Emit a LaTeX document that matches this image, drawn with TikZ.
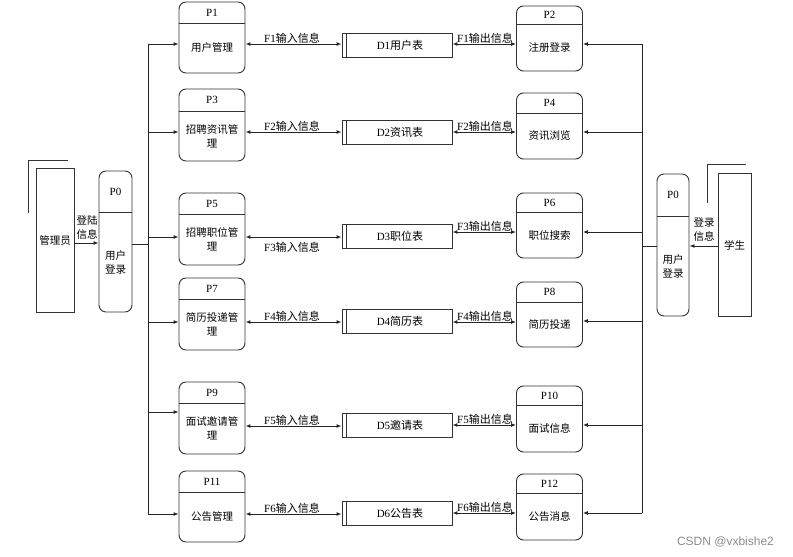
\documentclass[tikz,border=0pt]{standalone}
\usepackage{fontspec}
\setmainfont{Liberation Serif}
\newfontfamily\zhfont{Noto Sans CJK SC}
\newfontfamily\wmfont{Liberation Sans}
\newcommand\zh[1]{{\zhfont #1}}
\usetikzlibrary{arrows.meta}
\tikzset{
  pbox/.style={draw=black!80, line width=0.9pt, rounded corners=7pt, inner sep=0pt},
  hline/.style={draw=black!80, line width=0.9pt},
  sbox/.style={draw=black!80, line width=0.9pt, inner sep=0pt},
  conn/.style={draw=black!85, line width=0.9pt},
  arr/.style={conn, -{Latex[length=5pt,width=4pt]}},
  bi/.style={conn, line width=1pt, {Latex[length=5pt,width=4pt]}-{Latex[length=5pt,width=4pt]}},
  idtxt/.style={inner sep=0pt, font=\fontsize{11}{13}\selectfont},
  bodytxt/.style={inner sep=0pt, align=center, font=\zhfont\fontsize{10.5}{14}\selectfont},
  lab/.style={inner sep=0pt, font=\fontsize{11}{13}\selectfont},
}
% name, cx, top, bottom, header y, width, id, text
\newcommand\PBox[8]{%
  \pgfmathsetmacro\pbh{#4-#3}%
  \pgfmathsetmacro\pbcy{(#3+#4)/2}%
  \node[pbox, minimum width=#6pt, minimum height=\pbh pt] (#1) at (#2,\pbcy) {};
  \coordinate (#1hy) at (#2,#5);
  \draw[hline] (#1hy -| #1.west) -- (#1hy -| #1.east);
  \node[idtxt] (#1id) at (#2,{(#3+#5)/2}) {#7};
  \node[bodytxt] (#1tx) at (#2,{(#5+#4)/2}) {#8};
}
% name, cy, text
\newcommand\DBox[3]{%
  \node[sbox, minimum width=110pt, minimum height=24pt] (#1) at (397,#2) {};
  \draw[hline] ([xshift=5pt]#1.north west) -- ([xshift=5pt]#1.south west);
  \node[lab] (#1tx) at ([xshift=3pt]#1.center) {#3};
}
\begin{document}
\begin{tikzpicture}[x=1pt,y=-1pt]
\useasboundingbox (0,0) rectangle (793,557);
\fill[white] (0,0) rectangle (793,557);

% left processes
\PBox{p1}{212}{2}{73}{23}{66}{P1}{用户管理}
\PBox{p3}{212}{89}{161}{111}{66}{P3}{招聘资讯管\\理}
\PBox{p5}{212}{193}{265}{214}{66}{P5}{招聘职位管\\理}
\PBox{p7}{212}{278}{350}{299}{66}{P7}{简历投递管\\理}
\PBox{p9}{212}{382}{454}{403}{66}{P9}{面试邀请管\\理}
\PBox{p11}{212}{471}{542}{492}{66}{P11}{公告管理}
% right processes
\PBox{p2}{549.5}{6}{71}{24}{66}{P2}{注册登录}
\PBox{p4}{549.5}{93}{159}{113}{66}{P4}{资讯浏览}
\PBox{p6}{549.5}{193}{258}{212}{66}{P6}{职位搜索}
\PBox{p8}{549.5}{282}{347}{302}{66}{P8}{简历投递}
\PBox{p10}{549.5}{386}{452}{405}{66}{P10}{面试信息}
\PBox{p12}{549.5}{474}{540}{493}{66}{P12}{公告消息}
% login processes
\PBox{p0l}{115.5}{171}{312}{212}{33}{P0}{用户\\登录}
\PBox{p0r}{673}{174}{316}{216}{32}{P0}{用户\\登录}

% data stores
\DBox{d1}{45}{D1\zh{用户表}}
\DBox{d2}{132.5}{D2\zh{资讯表}}
\DBox{d3}{236}{D3\zh{职位表}}
\DBox{d4}{321}{D4\zh{简历表}}
\DBox{d5}{425}{D5\zh{邀请表}}
\DBox{d6}{513}{D6\zh{公告表}}

% external entities
\node[sbox, minimum width=38pt, minimum height=144pt] (admin) at (55,240) {};
\node[bodytxt] (admintx) at (55,241) {管理员};
\draw[hline] (admin.north west) ++(-7,45) -- ++(0,-52) -- ++(39,0);
\node[sbox, minimum width=33pt, minimum height=143pt] (stu) at (734.5,244.5) {};
\node[bodytxt] (stutx) at (734.5,245) {学生};
\draw[hline] (stu.north west) ++(-10,30) -- ++(0,-38) -- ++(38,0);

% entity -> login
\coordinate (ea) at (0,243);
\draw[arr] (ea -| admin.east) -- (ea -| p0l.west);
\node[bodytxt] (eatx) at (87,228) {登陆\\信息};
\coordinate (eb) at (0,246);
\draw[arr] (eb -| stu.west) -- (eb -| p0r.east);
\node[bodytxt] (ebtx) at (704,229.5) {登录\\信息};

% left trunk
\coordinate (lt1) at (148,44);
\coordinate (lt2) at (148,132);
\coordinate (lt3) at (148,237);
\coordinate (lt4) at (148,322);
\coordinate (lt5) at (148,412);
\coordinate (lt6) at (148,514);
\coordinate (ltj) at (148,244);
\draw[conn] (lt1) -- (lt6);
\draw[conn] (ltj -| p0l.east) -- (ltj);
\draw[arr] (lt1) -- (lt1 -| p1.west);
\draw[arr] (lt2) -- (lt2 -| p3.west);
\draw[arr] (lt3) -- (lt3 -| p5.west);
\draw[arr] (lt4) -- (lt4 -| p7.west);
\draw[arr] (lt5) -- (lt5 -| p9.west);
\draw[arr] (lt6) -- (lt6 -| p11.west);

% right trunk
\coordinate (rt1) at (642,44);
\coordinate (rt2) at (642,132);
\coordinate (rt3) at (642,232);
\coordinate (rt4) at (642,321);
\coordinate (rt5) at (642,425);
\coordinate (rt6) at (642,513);
\coordinate (rtj) at (642,246);
\draw[conn] (rt1) -- (rt6);
\draw[conn] (rtj -| p0r.west) -- (rtj);
\draw[arr] (rt1) -- (rt1 -| p2.east);
\draw[arr] (rt2) -- (rt2 -| p4.east);
\draw[arr] (rt3) -- (rt3 -| p6.east);
\draw[arr] (rt4) -- (rt4 -| p8.east);
\draw[arr] (rt5) -- (rt5 -| p10.east);
\draw[arr] (rt6) -- (rt6 -| p12.east);

% flows process <-> store
\coordinate (f1l) at (0,44);   \coordinate (f1r) at (0,44);
\coordinate (f2l) at (0,132);  \coordinate (f2r) at (0,132);
\coordinate (f3l) at (0,237);  \coordinate (f3r) at (0,232);
\coordinate (f4l) at (0,322);  \coordinate (f4r) at (0,322);
\coordinate (f5l) at (0,426);  \coordinate (f5r) at (0,425);
\coordinate (f6l) at (0,514);  \coordinate (f6r) at (0,513);

\draw[bi] (f1l -| p1.east) -- (f1l -| d1.west);
\draw[bi] (f2l -| p3.east) -- (f2l -| d2.west);
\draw[bi] (f3l -| p5.east) -- (f3l -| d3.west);
\draw[bi] (f4l -| p7.east) -- (f4l -| d4.west);
\draw[bi] (f5l -| p9.east) -- (f5l -| d5.west);
\draw[bi] (f6l -| p11.east) -- (f6l -| d6.west);

\draw[bi] (f1r -| d1.east) -- (f1r -| p2.west);
\draw[bi] (f2r -| d2.east) -- (f2r -| p4.west);
\draw[bi] (f3r -| d3.east) -- (f3r -| p6.west);
\draw[bi] (f4r -| d4.east) -- (f4r -| p8.west);
\draw[bi] (f5r -| d5.east) -- (f5r -| p10.west);
\draw[bi] (f6r -| d6.east) -- (f6r -| p12.west);

\node[lab] (fl1) at (292,38.5) {F1\zh{输入信息}};
\node[lab] (fl2) at (292,126.5) {F2\zh{输入信息}};
\node[lab] (fl3) at (292,247) {F3\zh{输入信息}};
\node[lab] (fl4) at (292,316.5) {F4\zh{输入信息}};
\node[lab] (fl5) at (292,420.5) {F5\zh{输入信息}};
\node[lab] (fl6) at (292,508.5) {F6\zh{输入信息}};

\node[lab] (fr1) at (485,38.5) {F1\zh{输出信息}};
\node[lab] (fr2) at (485,126.5) {F2\zh{输出信息}};
\node[lab] (fr3) at (485,226.5) {F3\zh{输出信息}};
\node[lab] (fr4) at (485,316.5) {F4\zh{输出信息}};
\node[lab] (fr5) at (485,419.5) {F5\zh{输出信息}};
\node[lab] (fr6) at (485,507.5) {F6\zh{输出信息}};

% watermark
\node[inner sep=0pt, text=black!45, font=\wmfont\fontsize{12}{14}\selectfont] (wm) at (725.5,542) {CSDN @vxbishe2};
\end{tikzpicture}
\end{document}
